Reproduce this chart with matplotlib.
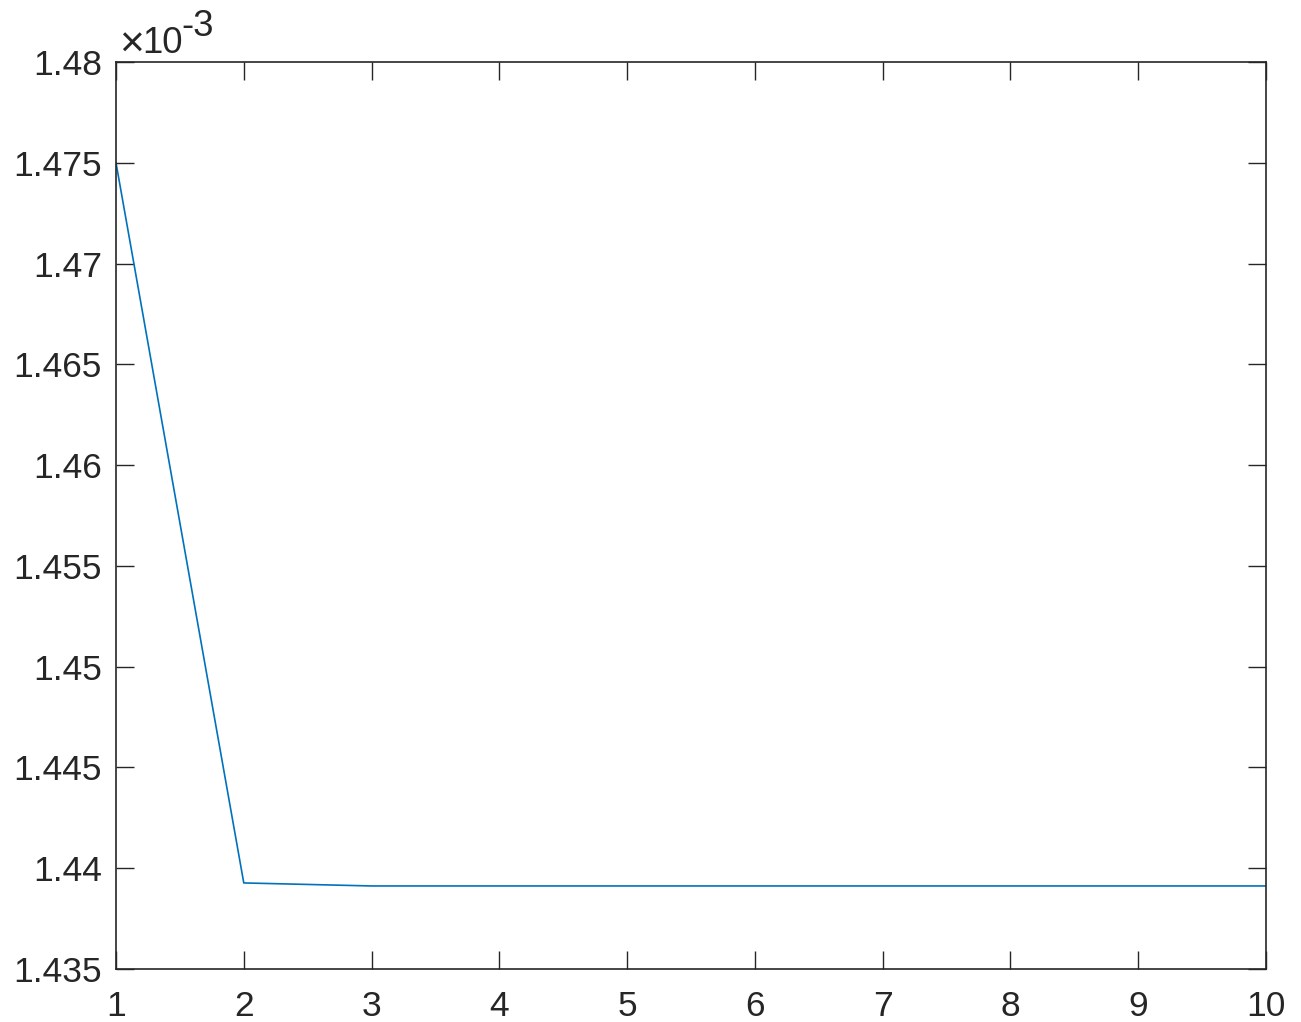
import matplotlib
matplotlib.use('Agg')
import matplotlib.pyplot as plt
from matplotlib.ticker import FuncFormatter

plt.rcParams['font.family'] = ['Liberation Sans', 'DejaVu Sans']

# iteration vs value (x 1e-3)
iterations = [1, 2, 3, 4, 5, 6, 7, 8, 9, 10]
values = [1.4750e-3, 1.43927e-3, 1.43912e-3, 1.43912e-3, 1.43912e-3,
          1.43912e-3, 1.43912e-3, 1.43912e-3, 1.43912e-3, 1.43912e-3]
yticks = [1.435e-3, 1.44e-3, 1.445e-3, 1.45e-3, 1.455e-3, 1.46e-3,
          1.465e-3, 1.47e-3, 1.475e-3, 1.48e-3]

axis_col = '#262626'
fs = 25.5

fig = plt.figure(figsize=(13.01, 10.22), dpi=100)
ax = fig.add_axes([116 / 1301, 53 / 1022, 1150 / 1301, 907 / 1022])
ax.plot(iterations, values, color='#0072BD', linewidth=1.2)

ax.set_xlim(1, 10)
ax.set_ylim(1.435e-3, 1.48e-3)
ax.set_xticks(iterations)
ax.set_yticks(yticks)
ax.yaxis.set_major_formatter(FuncFormatter(lambda v, p: ('%.3f' % (v * 1e3)).rstrip('0').rstrip('.')))

ax.tick_params(direction='in', length=13, width=1, colors=axis_col,
               labelsize=fs, top=True, right=True)
ax.tick_params(axis='x', pad=15)
ax.tick_params(axis='y', pad=10)
for s in ax.spines.values():
    s.set_color(axis_col)
    s.set_linewidth(1.2)

# exponent label, MATLAB style
fig.text(119 / 1301, 1 - 57 / 1022, '\u00d7', fontsize=fs * 1.2, color=axis_col,
         ha='left', va='baseline', fontweight='light')
fig.text(142 / 1301, 1 - 53 / 1022, '10', fontsize=fs * 1.03, color=axis_col,
         ha='left', va='baseline')
fig.text(181 / 1301, 1 - 36 / 1022, '-3', fontsize=fs * 1.03, color=axis_col,
         ha='left', va='baseline')

fig.savefig('out.png', dpi=100)
